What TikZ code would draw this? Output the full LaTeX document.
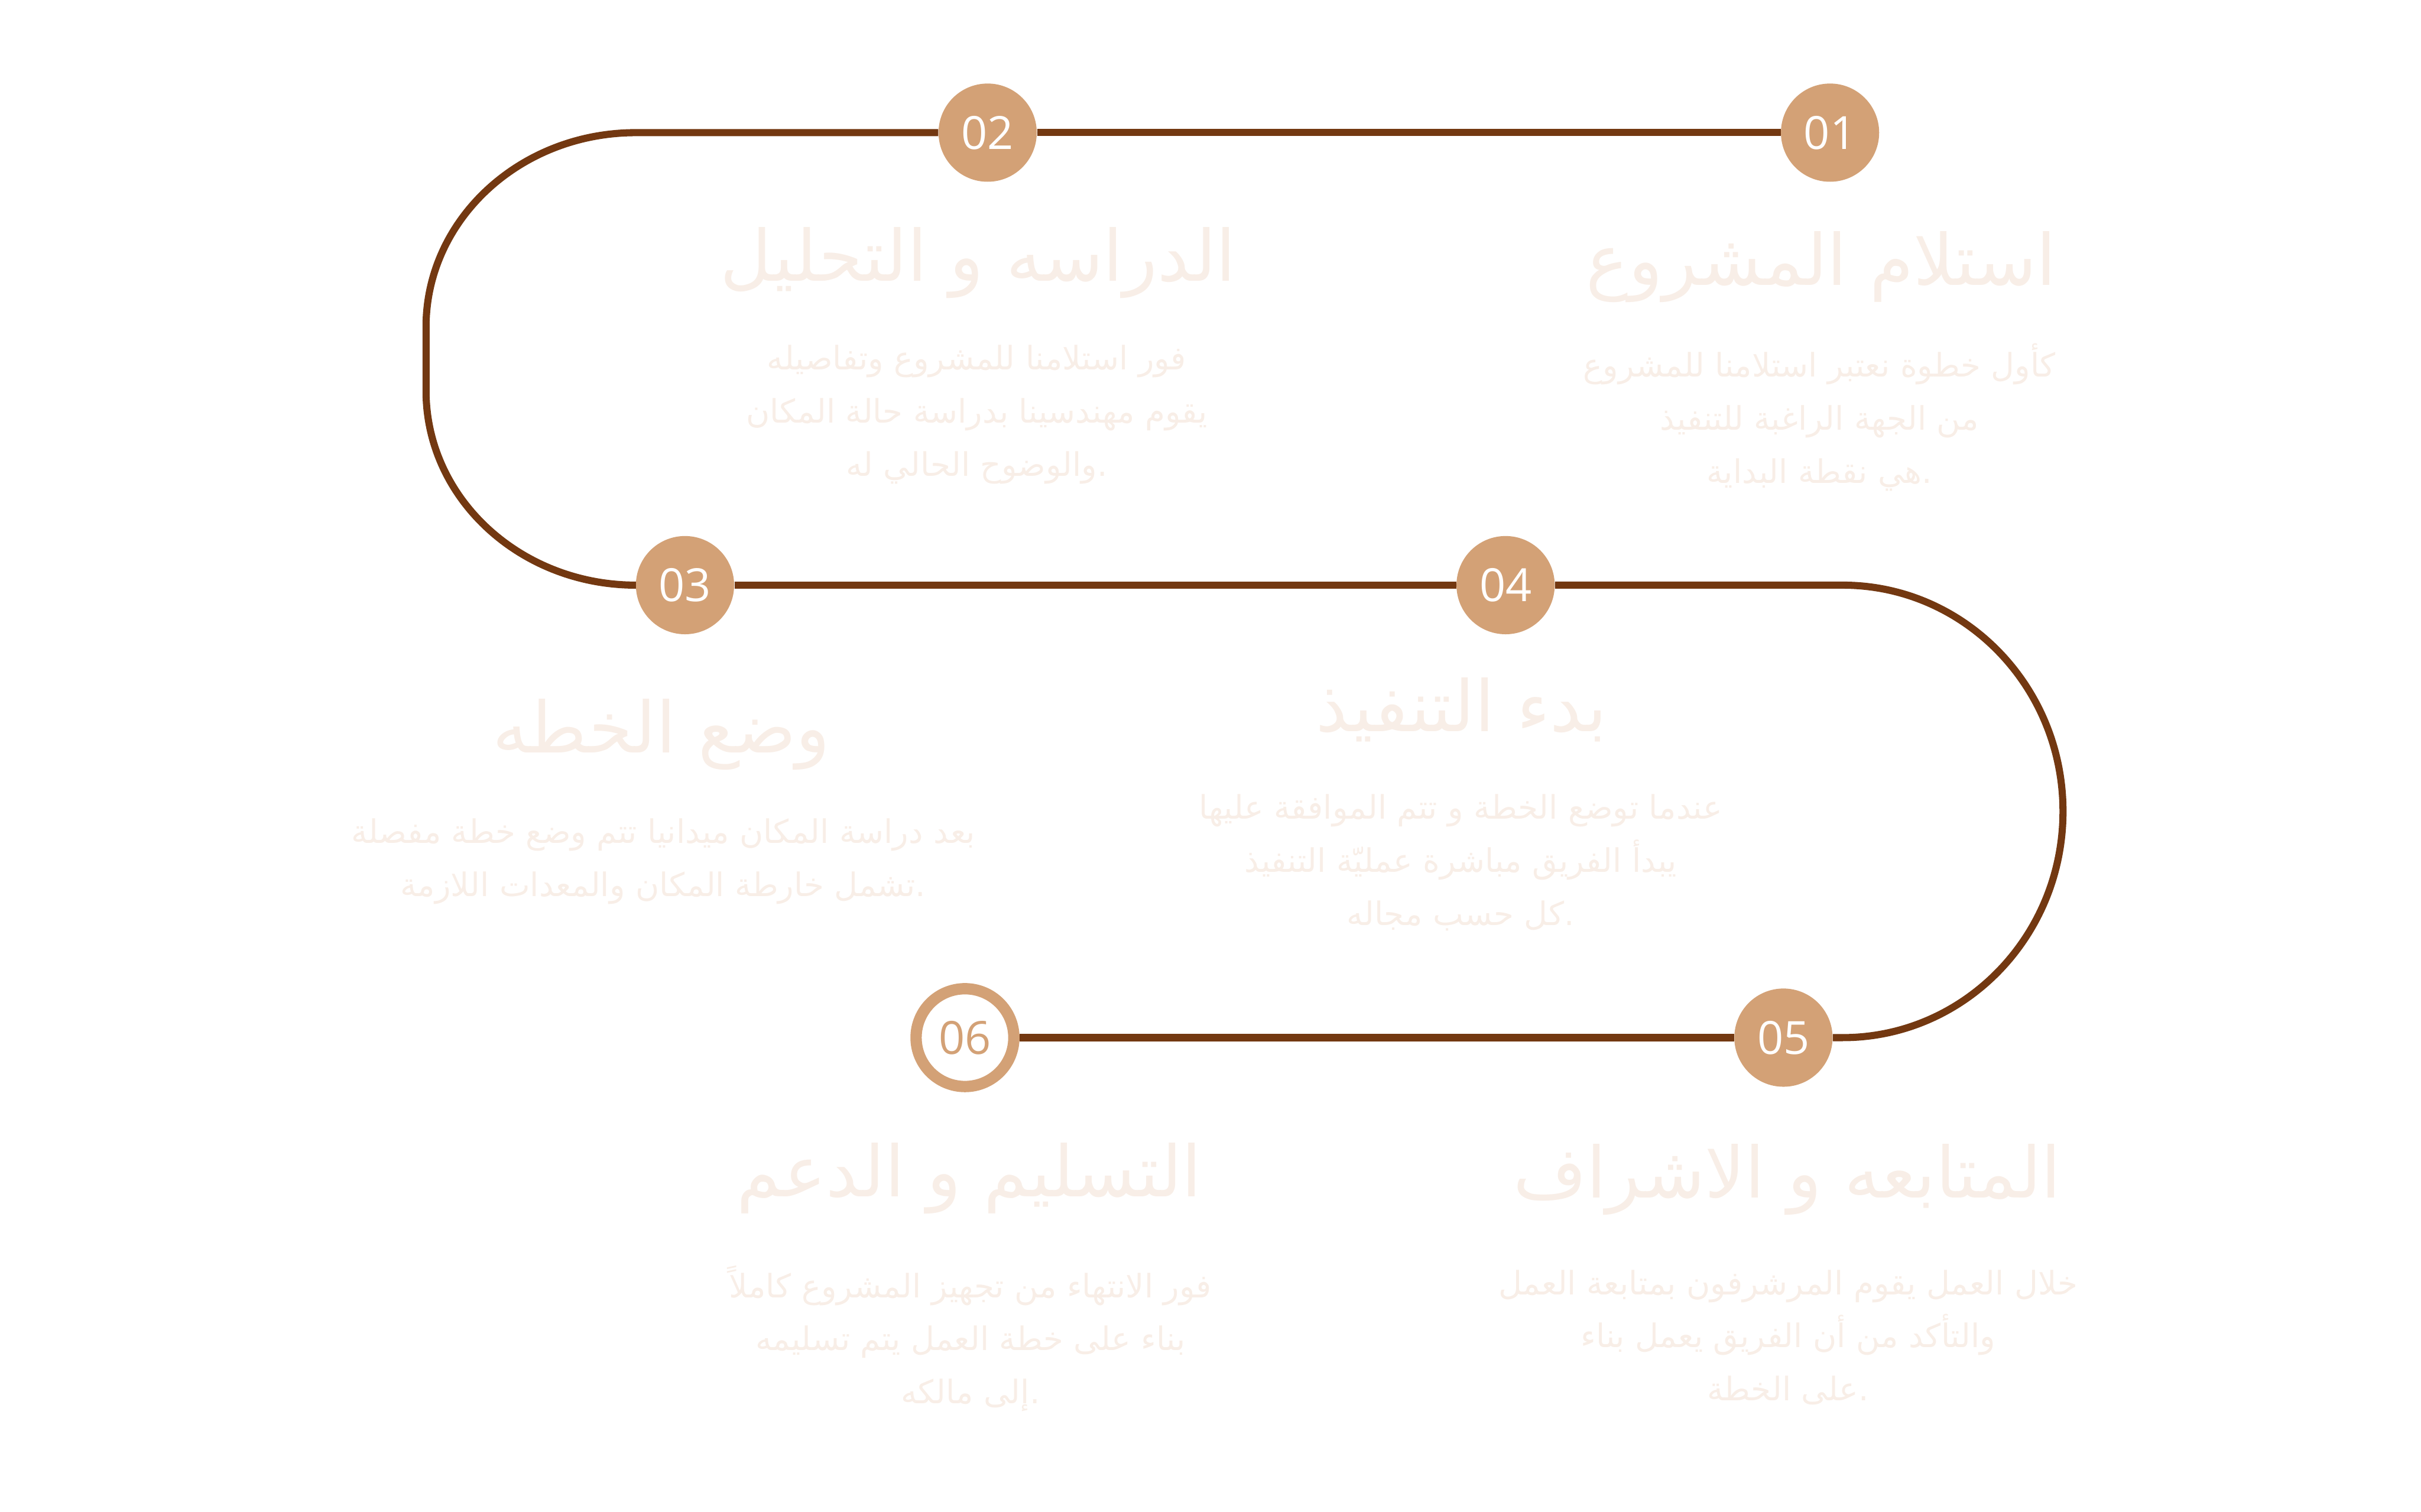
\documentclass[tikz,border=0pt]{standalone}
\usepackage{fontspec}
\newfontfamily\arabicfont[Script=Arabic]{DejaVu Sans}
\newfontfamily\numfont{Open Sans}
\TeXXeTstate=1
\definecolor{roadbrown}{HTML}{733811}
\definecolor{stepsand}{HTML}{D3A176}
\definecolor{paletext}{HTML}{F8EEE7}
\newcommand{\rl}[1]{\beginR #1\endR}

\begin{document}
\begin{tikzpicture}
 [step node/.style={circle,fill=stepsand,text=white,minimum size=2.34cm,inner sep=0pt,font=\numfont\fontsize{31}{31}\selectfont},
  last node/.style={circle,draw=stepsand,line width=0.27cm,fill=white,text=stepsand,minimum size=2.33cm,inner sep=0pt,font=\numfont\fontsize{31}{31}\selectfont},
  title node/.style={anchor=base,inner sep=0pt,text=paletext,font=\arabicfont\fontsize{48}{48}\selectfont},
  text node/.style={anchor=base,inner sep=0pt,align=center,text=paletext,font=\arabicfont\fontsize{22}{36}\selectfont},
  road/.style={draw=roadbrown,line width=0.17cm}]

 \useasboundingbox (0,0) rectangle (57.68,-36.01);

 \node[step node] (1) at (43.60,-3.16) {01};
 \node[step node] (2) at (23.53,-3.16) {02};
 \node[step node] (3) at (16.32,-13.94) {03};
 \node[step node] (4) at (35.87,-13.94) {04};
 \node[step node] (5) at (42.49,-24.72) {05};
 \node[last node] (6) at (22.99,-24.72) {06};

 % base of a text node is its last line
 \node[title node] (t1) at (43.39,-6.80) {\rl{استلام المشروع}};
 \node[text node] (d1) at (43.35,-11.51) {\rl{كأول خطوة نعتبر استلامنا للمشروع}\\ \rl{من الجهة الراغبة للتنفيذ}\\ \rl{.هي نقطة البداية}};

 \node[title node] (t2) at (23.30,-6.70) {\rl{الدراسه و التحليل}};
 \node[text node] (d2) at (23.27,-11.34) {\rl{فور استلامنا للمشروع وتفاصيله}\\ \rl{يقوم مهندسينا بدراسة حالة المكان}\\ \rl{.والوضوح الحالي له}};

 \node[title node] (t3) at (15.76,-17.94) {\rl{وضع الخطه}};
 \node[text node] (d3) at (15.80,-21.35) {\rl{بعد دراسة المكان ميدانيا تتم وضع خطة مفصلة}\\ \rl{.تشمل خارطة المكان والمعدات اللازمة}};

 \node[title node] (t4) at (34.82,-17.42) {\rl{بدء التنفيذ}};
 \node[text node] (d4) at (34.80,-22.04) {\rl{عندما توضع الخطة و تتم الموافقة عليها}\\ \rl{يبدأ الفريق مباشرة عمليّة التنفيذ}\\ \rl{.كل حسب مجاله}};

 \node[title node] (t5) at (42.58,-28.53) {\rl{المتابعه و الاشراف}};
 \node[text node] (d5) at (42.60,-33.37) {\rl{خلال العمل يقوم المرشرفون بمتابعة العمل}\\ \rl{والتأكد من أن الفريق يعمل بناء}\\ \rl{.على الخطة}};

 \node[title node] (t6) at (23.09,-28.51) {\rl{التسليم و الدعم}};
 \node[text node] (d6) at (23.12,-33.44) {\rl{فور الانتهاء من تجهيز المشروع كاملاً}\\ \rl{بناء على خطة العمل يتم تسليمه}\\ \rl{.إلى مالكه}};

 \path
  (1) edge [road] (2)
  (3) edge [road] (4)
  (5) edge [road] (6);

 \draw[road] (2.west) -- (15.15,-3.16) arc (90:180:5.0 and 4.63) -- ++(0,-1.52)
   arc (180:270:5.0 and 4.63) -- (3.west);
 \draw[road] (4.east) -- (43.90,-13.94) arc (90:-90:5.25 and 5.39) -- (5.east);

\end{tikzpicture}
\end{document}
